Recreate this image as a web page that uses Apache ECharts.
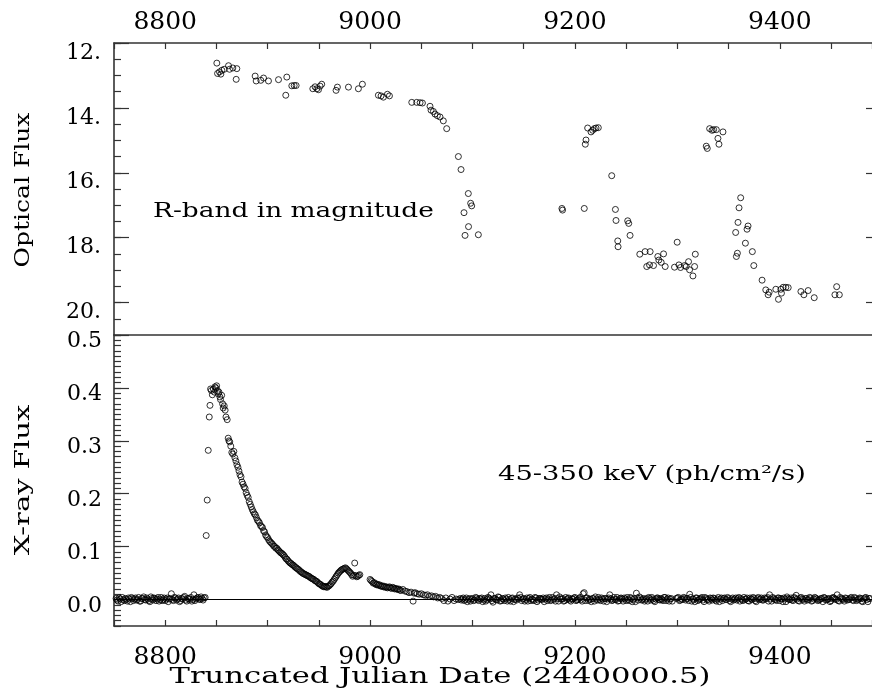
<!DOCTYPE html>
<html>
<head>
<meta charset="utf-8">
<script src="https://cdn.jsdelivr.net/npm/echarts@6/dist/echarts.min.js"></script>
<style>
  html, body { margin: 0; padding: 0; background: #fff; }
  #chart { width: 872px; height: 690px; }
</style>
</head>
<body>
<div id="chart"></div>
<script>
// optical R-band magnitudes
const optDate = [8850.4, 8851.1, 8853.0, 8854.3, 8855.3, 8857.6, 8861.8, 8862.8, 8866.0, 8869.9,
  8869.3, 8887.8, 8888.8, 8893.3, 8896.0, 8900.8, 8910.6, 8918.7, 8917.7, 8923.6,
  8925.9, 8927.8, 8944.1, 8946.3, 8948.0, 8949.6, 8951.2, 8952.8, 8966.8, 8968.1,
  8978.9, 8988.6, 8992.5, 9008.1, 9010.7, 9013.0, 9016.9, 9018.9, 9040.7, 9045.5,
  9048.8, 9051.1, 9058.5, 9059.5, 9061.8, 9063.4, 9065.7, 9068.3, 9071.5, 9074.8,
  9086.2, 9088.8, 9095.9, 9091.7, 9098.2, 9099.2, 9096.1, 9092.7, 9105.7,
  9187.3, 9187.9, 9209.1, 9210.1, 9210.8, 9212.4, 9215.7, 9217.3, 9218.9, 9220.6,
  9222.8, 9235.9, 9239.5, 9240.1, 9241.8, 9242.1, 9251.5, 9252.5, 9253.8, 9263.3,
  9268.5, 9273.4, 9270.1, 9272.8, 9276.7, 9280.9, 9281.9, 9284.2, 9286.5, 9288.1,
  9297.2, 9299.8, 9301.5, 9303.1, 9307.0, 9308.6, 9310.9, 9311.9, 9315.2, 9316.8,
  9317.5, 9328.2, 9329.2, 9331.5, 9333.8, 9335.4, 9338.0, 9339.6, 9340.6, 9344.5,
  9356.9, 9357.6, 9358.6, 9359.2, 9360.2, 9361.8, 9366.4, 9368.0, 9369.0, 9373.2,
  9374.6, 9382.7, 9386.3, 9388.6, 9389.6, 9396.1, 9398.7, 9401.0, 9401.6, 9403.3,
  9405.9, 9408.2, 9420.6, 9423.5, 9427.7, 9433.6, 9453.8, 9455.5, 9458.1]
const optMag = [12.62, 12.94, 12.89, 12.96, 12.84, 12.81, 12.70, 12.81, 12.77, 12.79,
  13.12, 13.02, 13.17, 13.15, 13.08, 13.17, 13.13, 13.05, 13.61, 13.32,
  13.31, 13.31, 13.41, 13.35, 13.41, 13.44, 13.33, 13.27, 13.46, 13.36,
  13.36, 13.41, 13.27, 13.61, 13.63, 13.67, 13.58, 13.63, 13.83, 13.83,
  13.84, 13.85, 13.95, 14.07, 14.11, 14.19, 14.24, 14.28, 14.40, 14.64,
  15.50, 15.90, 16.64, 17.23, 16.94, 17.02, 17.66, 17.93, 17.91,
  17.10, 17.15, 17.10, 15.12, 14.99, 14.62, 14.74, 14.69, 14.64, 14.62,
  14.61, 16.09, 17.13, 17.47, 18.10, 18.28, 17.48, 17.56, 17.93, 18.51,
  18.43, 18.43, 18.89, 18.84, 18.86, 18.58, 18.69, 18.76, 18.50, 18.89,
  18.91, 18.14, 18.84, 18.92, 18.86, 18.89, 18.74, 18.99, 19.18, 18.89,
  18.51, 15.18, 15.25, 14.64, 14.69, 14.67, 14.67, 14.94, 15.12, 14.74,
  17.84, 18.58, 18.48, 17.53, 17.08, 16.77, 18.17, 17.74, 17.64, 18.43,
  18.86, 19.31, 19.61, 19.76, 19.68, 19.59, 19.90, 19.59, 19.71, 19.53,
  19.53, 19.54, 19.66, 19.76, 19.63, 19.85, 19.76, 19.51, 19.76]

// hard x-ray flux, quiet level before the outburst (even and odd days)
const xrQuietDate = [8752, 8754, 8756, 8758, 8760, 8762, 8764, 8766, 8768, 8770,
  8772, 8774, 8776, 8778, 8780, 8782, 8784, 8786, 8788, 8790,
  8792, 8794, 8796, 8798, 8800, 8802, 8804, 8806, 8808, 8810,
  8812, 8814, 8816, 8818, 8820, 8822, 8824, 8826, 8828, 8830,
  8832, 8834, 8836, 8838]
const xrQuietFlux = [0.002, -0.003, 0.001, 0.004, -0.002, 0.000, 0.003, -0.004, 0.002, 0.001,
  -0.001, 0.004, -0.003, 0.002, 0.000, 0.003, -0.002, 0.005, -0.001, 0.002,
  0.001, -0.003, 0.004, 0.000, -0.002, 0.003, 0.001, 0.011, -0.002, 0.003,
  0.001, -0.004, 0.002, 0.004, -0.001, 0.002, 0.000, -0.003, 0.009, 0.001,
  0.004, 0.000, 0.002, 0.003]
const xrQuietDate2 = [8753, 8755, 8757, 8759, 8761, 8763, 8765, 8767, 8769, 8771,
  8773, 8775, 8777, 8779, 8781, 8783, 8785, 8787, 8789, 8791,
  8793, 8795, 8797, 8799, 8801, 8803, 8805, 8807, 8809, 8811,
  8813, 8815, 8817, 8819, 8821, 8823, 8825, 8827, 8829, 8831,
  8833, 8835, 8837, 8839]
const xrQuietFlux2 = [-0.001, 0.003, -0.004, 0.000, 0.002, -0.003, 0.001, 0.004, -0.002, 0.003,
  0.000, -0.003, 0.002, 0.005, -0.001, 0.001, -0.004, 0.002, 0.003, -0.002,
  0.004, 0.000, -0.002, 0.003, 0.001, -0.004, 0.002, 0.000, 0.004, -0.001,
  0.003, -0.002, 0.001, 0.006, -0.003, 0.002, 0.004, 0.000, -0.002, 0.003,
  0.001, 0.005, -0.001, 0.004]

// outburst and decay
const xrBurstDate = [8840, 8841, 8842, 8843, 8843.7, 8844.3, 8845, 8846, 8847, 8848,
  8848.5, 8849.5, 8850.2, 8851, 8851.8, 8852.5, 8853.4, 8854, 8855.1, 8856,
  8856.6, 8857.6, 8858.5, 8859.3, 8860.5, 8861.5, 8862.2, 8863, 8864, 8865,
  8866, 8867, 8868, 8869, 8870, 8871, 8872, 8873, 8874, 8875,
  8876, 8877, 8878, 8879, 8880, 8881, 8882, 8883, 8884, 8885,
  8886, 8887, 8888, 8889, 8890, 8891, 8892, 8893, 8894, 8895,
  8896, 8897, 8898, 8899, 8900, 8901, 8902, 8903, 8904, 8905,
  8906, 8907, 8908, 8909, 8910, 8911, 8912, 8913, 8914, 8915,
  8916, 8917, 8918, 8919, 8920, 8921, 8922, 8923, 8924, 8925,
  8926, 8927, 8928, 8929, 8930, 8931, 8932, 8933, 8934, 8935,
  8936, 8937, 8938, 8939, 8940, 8941, 8942, 8943, 8944, 8945,
  8946, 8947, 8948, 8949, 8950, 8951, 8952, 8953, 8954, 8955,
  8956, 8957, 8958, 8959, 8960, 8961, 8962, 8963, 8964, 8965,
  8966, 8967, 8968, 8969, 8970, 8971, 8972, 8973, 8974, 8975,
  8976, 8977, 8978, 8979, 8980, 8981, 8982, 8983, 8984, 8985,
  8986, 8987, 8988, 8989, 8990]
const xrBurstFlux = [0.121, 0.188, 0.282, 0.345, 0.367, 0.398, 0.395, 0.387, 0.398, 0.392,
  0.402, 0.400, 0.404, 0.395, 0.389, 0.392, 0.383, 0.378, 0.386, 0.370,
  0.362, 0.366, 0.358, 0.345, 0.340, 0.305, 0.300, 0.298, 0.290, 0.278,
  0.275, 0.280, 0.268, 0.262, 0.255, 0.250, 0.243, 0.236, 0.232, 0.222,
  0.218, 0.213, 0.210, 0.202, 0.197, 0.193, 0.185, 0.180, 0.175, 0.170,
  0.166, 0.162, 0.160, 0.155, 0.150, 0.148, 0.145, 0.140, 0.138, 0.136,
  0.130, 0.128, 0.122, 0.119, 0.117, 0.113, 0.110, 0.108, 0.106, 0.104,
  0.101, 0.100, 0.097, 0.097, 0.094, 0.092, 0.090, 0.088, 0.087, 0.085,
  0.083, 0.080, 0.077, 0.076, 0.073, 0.071, 0.069, 0.068, 0.066, 0.065,
  0.063, 0.061, 0.060, 0.058, 0.057, 0.055, 0.053, 0.052, 0.050, 0.049,
  0.048, 0.047, 0.046, 0.045, 0.044, 0.043, 0.041, 0.040, 0.039, 0.038,
  0.036, 0.035, 0.034, 0.032, 0.030, 0.029, 0.028, 0.026, 0.025, 0.024,
  0.025, 0.024, 0.023, 0.025, 0.026, 0.028, 0.030, 0.033, 0.035, 0.038,
  0.041, 0.044, 0.047, 0.050, 0.052, 0.054, 0.056, 0.057, 0.058, 0.059,
  0.060, 0.058, 0.056, 0.054, 0.052, 0.050, 0.047, 0.044, 0.046, 0.069,
  0.045, 0.043, 0.044, 0.046, 0.047]

// slow tail after the gap at 9000
const xrTailDate = [9000, 9001, 9002, 9003, 9004, 9005, 9006, 9007, 9008, 9009,
  9010, 9011, 9012, 9013, 9014, 9015, 9016, 9017, 9018, 9019,
  9020, 9021, 9022, 9023, 9024, 9025, 9026, 9027, 9028, 9029,
  9030, 9032, 9034, 9036, 9038, 9040, 9042, 9043, 9044, 9046,
  9048, 9050, 9052, 9054, 9056, 9058, 9060, 9062, 9064, 9066,
  9068, 9070, 9072, 9074, 9076, 9078, 9080, 9082, 9084, 9086]
const xrTailFlux = [0.038, 0.036, 0.034, 0.031, 0.032, 0.030, 0.028, 0.029, 0.027, 0.028,
  0.026, 0.025, 0.026, 0.024, 0.025, 0.023, 0.024, 0.022, 0.023, 0.024,
  0.022, 0.021, 0.023, 0.022, 0.020, 0.021, 0.020, 0.019, 0.020, 0.018,
  0.017, 0.019, 0.016, 0.015, 0.013, 0.014, -0.003, 0.012, 0.013, 0.011,
  0.010, 0.011, 0.009, 0.008, 0.009, 0.006, 0.007, 0.005, 0.006, 0.003,
  0.004, 0.002, -0.002, 0.003, -0.003, 0.001, 0.004, -0.002, 0.001, 0.000]

// back to quiet level (even and odd days)
const xrLateDate = [9088, 9090, 9092, 9094, 9096, 9098, 9100, 9102, 9104, 9106,
  9108, 9110, 9112, 9114, 9116, 9118, 9120, 9122, 9124, 9126,
  9128, 9130, 9132, 9134, 9136, 9138, 9140, 9142, 9144, 9146,
  9148, 9150, 9152, 9154, 9156, 9158, 9160, 9162, 9164, 9166,
  9168, 9170, 9172, 9174, 9176, 9178, 9180, 9182, 9184, 9186,
  9188, 9190, 9192, 9194, 9196, 9198, 9200, 9202, 9204, 9206,
  9208, 9210, 9212, 9214, 9216, 9218, 9220, 9222, 9224, 9226,
  9228, 9230, 9232, 9234, 9236, 9238, 9240, 9242, 9244, 9246,
  9248, 9250, 9252, 9254, 9256, 9258, 9260, 9262, 9264, 9266,
  9268, 9270, 9272, 9274, 9276, 9278, 9280, 9282, 9284, 9286,
  9288, 9290, 9292, 9294, 9300, 9302, 9304, 9306,
  9308, 9310, 9312, 9314, 9316, 9318, 9320, 9322, 9324, 9326,
  9328, 9330, 9332, 9334, 9336, 9338, 9340, 9342, 9344, 9346,
  9348, 9350, 9352, 9354, 9356, 9358, 9360, 9362, 9364, 9366,
  9368, 9370, 9372, 9374, 9376, 9378, 9380, 9382, 9384, 9386,
  9388, 9390, 9392, 9394, 9396, 9398, 9400, 9402, 9404, 9406,
  9408, 9410, 9412, 9414, 9416, 9418, 9420, 9422, 9424, 9426,
  9428, 9430, 9432, 9434, 9436, 9438, 9440, 9442, 9444, 9446,
  9448, 9450, 9452, 9454, 9456, 9458, 9460, 9462, 9464, 9466,
  9468, 9470, 9472, 9474, 9476, 9478, 9480, 9482, 9484, 9486, 9488]
const xrLateFlux = [0.002, 0.001, -0.002, 0.003, 0.000, -0.003, 0.002, -0.001, 0.003, -0.002,
  0.001, -0.004, 0.002, 0.000, 0.003, 0.009, -0.005, 0.002, -0.001, 0.004,
  -0.002, 0.001, 0.003, -0.003, 0.000, 0.002, -0.004, 0.001, 0.003, 0.009,
  -0.002, 0.002, 0.000, -0.003, 0.004, 0.001, -0.002, 0.003, -0.001, 0.002,
  0.000, -0.004, 0.003, 0.001, -0.002, 0.004, 0.002, 0.009, -0.003, 0.001,
  0.002, -0.002, 0.000, 0.003, -0.003, 0.001, 0.004, -0.001, 0.002, 0.000,
  0.011, -0.002, 0.003, 0.001, -0.004, 0.002, 0.005, -0.001, 0.000, 0.003,
  -0.003, 0.002, 0.001, 0.009, -0.002, 0.004, 0.000, -0.003, 0.002, 0.001,
  0.003, -0.002, 0.000, 0.004, -0.004, 0.002, 0.012, -0.001, 0.003, 0.000,
  -0.003, 0.002, 0.004, -0.001, 0.001, -0.004, 0.003, 0.000, 0.002, -0.002,
  0.004, 0.001, -0.003, 0.002, 0.003, -0.002, 0.001, 0.004,
  -0.001, 0.002, 0.010, -0.003, 0.000, 0.003, -0.002, 0.001, 0.004, -0.004,
  0.002, 0.000, 0.003, -0.001, 0.002, -0.003, 0.004, 0.001, -0.002, 0.003,
  0.000, 0.002, -0.004, 0.003, 0.001, -0.001, 0.004, 0.002, -0.002, 0.000,
  0.003, -0.003, 0.001, 0.004, -0.002, 0.002, 0.000, 0.003, -0.001, 0.001,
  0.004, 0.009, -0.003, 0.002, 0.000, 0.003, -0.002, 0.001, 0.003, -0.004,
  0.002, 0.000, -0.001, 0.004, 0.008, -0.002, 0.003, 0.001, -0.003, 0.002,
  0.000, 0.003, -0.002, 0.004, 0.001, -0.001, 0.002, -0.004, 0.003, 0.000,
  0.002, -0.002, 0.004, 0.001, 0.009, -0.003, 0.002, 0.000, 0.003, -0.001,
  0.001, 0.004, -0.002, 0.002, 0.000, 0.003, -0.003, 0.001, 0.004, -0.004, 0.002]
const xrLateDate2 = [9089, 9091, 9093, 9095, 9097, 9099, 9101, 9103, 9105, 9107,
  9109, 9111, 9113, 9115, 9117, 9119, 9121, 9123, 9125, 9127,
  9129, 9131, 9133, 9135, 9137, 9139, 9141, 9143, 9145, 9147,
  9149, 9151, 9153, 9155, 9157, 9159, 9161, 9163, 9165, 9167,
  9169, 9171, 9173, 9175, 9177, 9179, 9181, 9183, 9185, 9187,
  9189, 9191, 9193, 9195, 9197, 9199, 9201, 9203, 9205, 9207,
  9209, 9211, 9213, 9215, 9217, 9219, 9221, 9223, 9225, 9227,
  9229, 9231, 9233, 9235, 9237, 9239, 9241, 9243, 9245, 9247,
  9249, 9251, 9253, 9255, 9257, 9259, 9261, 9263, 9265, 9267,
  9269, 9271, 9273, 9275, 9277, 9279, 9281, 9283, 9285, 9287,
  9289, 9291, 9293, 9295, 9299, 9301, 9303, 9305, 9307,
  9309, 9311, 9313, 9315, 9317, 9319, 9321, 9323, 9325, 9327,
  9329, 9331, 9333, 9335, 9337, 9339, 9341, 9343, 9345, 9347,
  9349, 9351, 9353, 9355, 9357, 9359, 9361, 9363, 9365, 9367,
  9369, 9371, 9373, 9375, 9377, 9379, 9381, 9383, 9385, 9387,
  9389, 9391, 9393, 9395, 9397, 9399, 9401, 9403, 9405, 9407,
  9409, 9411, 9413, 9415, 9417, 9419, 9421, 9423, 9425, 9427,
  9429, 9431, 9433, 9435, 9437, 9439, 9441, 9443, 9445, 9447,
  9449, 9451, 9453, 9455, 9457, 9459, 9461, 9463, 9465, 9467,
  9469, 9471, 9473, 9475, 9477, 9479, 9481, 9483, 9485, 9487]
const xrLateFlux2 = [-0.001, 0.003, 0.000, -0.004, 0.002, 0.001, -0.002, 0.004, 0.000, 0.002,
  0.003, -0.001, -0.003, 0.004, 0.001, -0.002, 0.002, 0.000, 0.005, -0.003,
  0.002, -0.002, 0.001, 0.004, -0.003, 0.003, 0.000, -0.001, 0.002, 0.004,
  0.001, -0.003, 0.003, 0.002, -0.002, 0.000, 0.004, -0.004, 0.002, 0.001,
  0.003, 0.001, -0.002, 0.004, -0.001, 0.000, -0.003, 0.002, 0.005, 0.001,
  -0.003, 0.004, 0.002, -0.001, 0.001, 0.003, -0.002, 0.000, 0.004, -0.003,
  0.013, 0.003, -0.002, 0.000, 0.002, -0.003, 0.001, 0.004, -0.002, 0.001,
  0.002, -0.004, 0.003, 0.001, -0.001, 0.000, 0.004, -0.002, 0.003, -0.003,
  0.001, 0.004, -0.002, 0.002, 0.000, -0.004, 0.003, 0.005, -0.001, 0.002,
  0.000, -0.003, 0.002, 0.004, -0.002, 0.001, 0.003, -0.001, 0.000, 0.004,
  -0.002, 0.003, 0.001, -0.003, 0.002, 0.004, -0.001, 0.000, 0.003,
  0.002, -0.002, 0.004, 0.001, -0.004, 0.003, 0.000, 0.002, -0.001, 0.004,
  0.000, -0.003, 0.002, 0.003, -0.001, 0.001, -0.004, 0.003, 0.002, 0.000,
  0.004, -0.002, 0.001, -0.001, 0.003, 0.002, -0.003, 0.000, 0.004, 0.001,
  -0.002, 0.003, 0.000, 0.002, -0.004, 0.004, 0.001, -0.001, 0.003, 0.002,
  -0.003, 0.001, 0.004, 0.000, -0.002, 0.003, 0.002, -0.004, 0.001, 0.005,
  0.000, 0.003, -0.002, 0.002, 0.001, -0.003, 0.004, 0.000, 0.002, -0.001,
  0.004, -0.003, 0.001, 0.003, -0.002, 0.000, 0.002, 0.004, -0.001, 0.001,
  -0.004, 0.002, 0.003, 0.000, -0.002, 0.004, 0.001, -0.003, 0.002, 0.000,
  0.003, -0.001, 0.004, -0.002, 0.001, 0.002, -0.004, 0.003, 0.000, 0.002]

const dateLabels = [8800, 9000, 9200, 9400]
const magLabels = [12, 14, 16, 18, 20]
const fluxLabels = [0, 0.1, 0.2, 0.3, 0.4, 0.5]

const FONT = 'DejaVu Serif'
const INK = '#000'
const FRAME = '#333'

const zip = (xs, ys) => xs.map((x, i) => [x, ys[i]])

const xrayData = [].concat(
  zip(xrQuietDate, xrQuietFlux),
  zip(xrQuietDate2, xrQuietFlux2),
  zip(xrBurstDate, xrBurstFlux),
  zip(xrTailDate, xrTailFlux),
  zip(xrLateDate, xrLateFlux),
  zip(xrLateDate2, xrLateFlux2)
)

const chart = echarts.init(document.getElementById('chart'), null, { renderer: 'canvas' })

// date axis shared by both panels
function dateAxis(grid, position, labels, margin) {
  return {
    type: 'value', gridIndex: grid, position: position,
    min: 8750, max: 9490, interval: 50,
    axisLine: { show: true, onZero: false, lineStyle: { color: FRAME, width: 1.6 } },
    axisTick: { show: true, inside: true, length: 6, lineStyle: { color: FRAME, width: 1.2 } },
    axisLabel: {
      show: labels, customValues: dateLabels, margin: margin,
      formatter: v => String(v),
      fontFamily: FONT, fontSize: 25, color: INK
    },
    splitLine: { show: false }
  }
}

// value axis: one for the frame line and minor ticks, one for major ticks/labels
function valueAxis(grid, position, extra) {
  return Object.assign({
    type: 'value', gridIndex: grid, position: position,
    axisLine: { show: false, onZero: false },
    axisTick: { show: false },
    axisLabel: { show: false },
    splitLine: { show: false }
  }, extra)
}

const option = {
  animation: false,
  backgroundColor: '#fff',
  grid: [
    { left: 114, top: 43, width: 758.5, height: 292 },
    { left: 114, top: 335, width: 758.5, height: 291 }
  ],
  xAxis: [
    dateAxis(0, 'top', true, 8),
    dateAxis(1, 'bottom', true, 19),
    {
      type: 'value', gridIndex: 1, position: 'top', min: 8750, max: 9490,
      axisLine: { show: true, onZero: false, lineStyle: { color: FRAME, width: 1.6 } },
      axisTick: { show: false }, axisLabel: { show: false }, splitLine: { show: false }
    }
  ],
  yAxis: [
    valueAxis(0, 'left', {
      inverse: true, min: 12, max: 21, interval: 0.5,
      axisLine: { show: true, onZero: false, lineStyle: { color: FRAME, width: 1.6 } },
      axisTick: { show: true, inside: true, length: 7, lineStyle: { color: FRAME, width: 1.2 } }
    }),
    valueAxis(0, 'left', {
      inverse: true, min: 12, max: 21,
      axisTick: { show: true, inside: true, length: 15, customValues: magLabels, lineStyle: { color: FRAME, width: 1.2 } },
      axisLabel: {
        show: true, customValues: magLabels, margin: 13,
        formatter: v => v + '.',
        fontFamily: FONT, fontSize: 22, color: INK,
        verticalAlign: 'top', lineHeight: 20
      }
    }),
    valueAxis(0, 'right', {
      inverse: true, min: 12, max: 21,
      axisTick: { show: true, inside: true, length: 6, customValues: [14, 16, 18, 20], lineStyle: { color: FRAME, width: 1.2 } }
    }),
    valueAxis(1, 'left', {
      min: -0.05, max: 0.5, interval: 0.01,
      axisLine: { show: true, onZero: false, lineStyle: { color: FRAME, width: 1.6 } },
      axisTick: { show: true, inside: true, length: 7, lineStyle: { color: FRAME, width: 1.2 } }
    }),
    valueAxis(1, 'left', {
      min: -0.05, max: 0.5,
      axisTick: { show: true, inside: true, length: 15, customValues: fluxLabels, lineStyle: { color: FRAME, width: 1.2 } },
      axisLabel: {
        show: true, customValues: fluxLabels, margin: 12,
        formatter: v => v.toFixed(1),
        fontFamily: FONT, fontSize: 22, color: INK,
        verticalAlign: 'top', lineHeight: 13
      }
    }),
    valueAxis(1, 'right', {
      min: -0.05, max: 0.5,
      axisTick: { show: true, inside: true, length: 6, customValues: [0.1, 0.2, 0.3, 0.4], lineStyle: { color: FRAME, width: 1.2 } }
    })
  ],
  series: [
    {
      name: 'Optical', type: 'scatter', xAxisIndex: 0, yAxisIndex: 0,
      data: zip(optDate, optMag),
      symbol: 'circle', symbolSize: 6,
      itemStyle: { color: 'rgba(0,0,0,0)', borderColor: INK, borderWidth: 1 },
      silent: true
    },
    {
      name: 'X-ray', type: 'scatter', xAxisIndex: 1, yAxisIndex: 3,
      data: xrayData,
      symbol: 'circle', symbolSize: 6,
      itemStyle: { color: 'rgba(0,0,0,0)', borderColor: INK, borderWidth: 1 },
      silent: true,
      markLine: {
        silent: true, symbol: 'none', label: { show: false },
        lineStyle: { color: INK, width: 1, type: 'solid' },
        data: [{ yAxis: 0 }]
      }
    }
  ],
  graphic: [
    {
      type: 'text', x: 24, y: 190, rotation: Math.PI / 2, scaleX: 1.25,
      style: { text: 'Optical Flux', font: '20px "DejaVu Serif"', fill: INK, align: 'center', verticalAlign: 'middle' }
    },
    {
      type: 'text', x: 24, y: 480, rotation: Math.PI / 2, scaleX: 1.45,
      style: { text: 'X-ray Flux', font: '20px "DejaVu Serif"', fill: INK, align: 'center', verticalAlign: 'middle' }
    },
    {
      type: 'text', x: 153, y: 212, scaleX: 1.32,
      style: { text: 'R-band in magnitude', font: '20px "DejaVu Serif"', fill: INK, align: 'left', verticalAlign: 'middle' }
    },
    {
      type: 'text', x: 498, y: 475, scaleX: 1.37,
      style: { text: '45-350 keV (ph/cm²/s)', font: '20px "DejaVu Serif"', fill: INK, align: 'left', verticalAlign: 'middle' }
    },
    {
      type: 'text', x: 440, y: 677, scaleX: 1.33,
      style: { text: 'Truncated Julian Date (2440000.5)', font: '23px "DejaVu Serif"', fill: INK, align: 'center', verticalAlign: 'middle' }
    }
  ]
}

chart.setOption(option)
</script>
</body>
</html>
